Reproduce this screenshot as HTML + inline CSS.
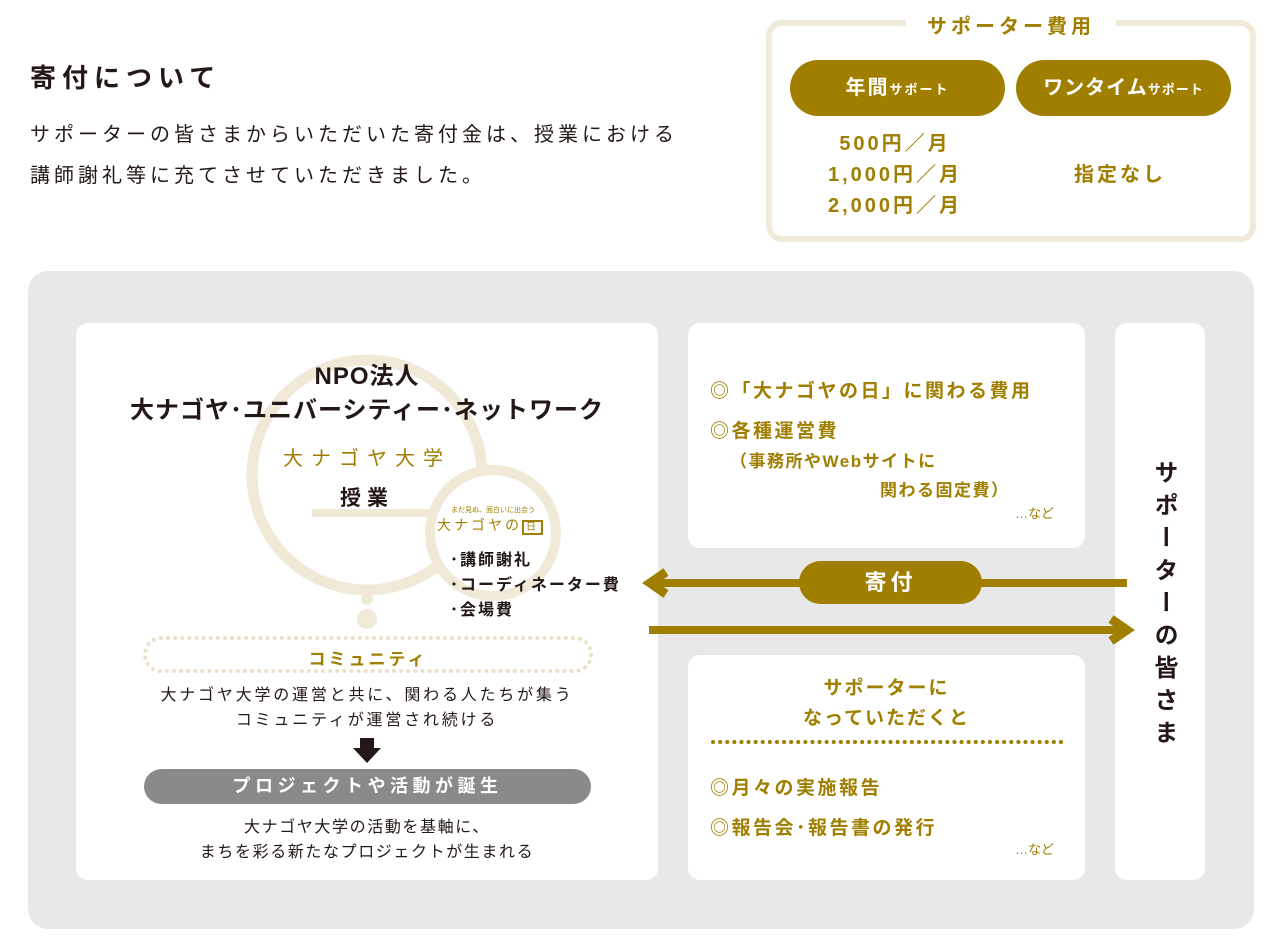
<!DOCTYPE html>
<html><head><meta charset="utf-8"><style>
*{margin:0;padding:0;box-sizing:border-box}
body{width:1280px;height:944px;background:#fff;position:relative;overflow:hidden;font-family:"Liberation Sans","Noto Sans CJK JP",sans-serif;color:#231815}
.a{position:absolute;white-space:nowrap}
.g{color:#a07f00}
.b{font-weight:bold}
.c{text-align:center}
</style></head><body>
<div class="a b" style="left:30px;top:58px;font-size:26px;letter-spacing:6px">寄付について</div>
<div class="a" style="left:30px;top:115px;font-size:20px;line-height:41px;letter-spacing:4px">サポーターの皆さまからいただいた寄付金は、授業における<br>講師謝礼等に充てさせていただきました。</div>

<div class="a" style="left:766px;top:20px;width:490px;height:222px;border:6px solid #f0ead9;border-radius:16px"></div>
<div class="a b g c" style="left:906px;top:10px;width:210px;background:#fff;font-size:20px;letter-spacing:4px">サポーター費用</div>
<div class="a b c" style="left:790px;top:60px;width:215px;height:56px;border-radius:28px;background:#a07f00;color:#fff;font-size:20px;line-height:56px;letter-spacing:2px">年間<span style="font-size:13px">サポート</span></div>
<div class="a b c" style="left:1016px;top:60px;width:215px;height:56px;border-radius:28px;background:#a07f00;color:#fff;font-size:20px;line-height:56px;letter-spacing:1px">ワンタイム<span style="font-size:13px">サポート</span></div>
<div class="a b g c" style="left:795px;top:129px;width:200px;font-size:20px;line-height:31px;letter-spacing:3px">500円／月<br>1,000円／月<br>2,000円／月</div>
<div class="a b g c" style="left:1020px;top:158px;width:200px;font-size:20px;letter-spacing:3px">指定なし</div>

<div class="a" style="left:28px;top:271px;width:1226px;height:658px;background:#e8e8e8;border-radius:20px"></div>
<div class="a" style="left:76px;top:323px;width:582px;height:557px;background:#fff;border-radius:12px"></div>
<div class="a" style="left:688px;top:323px;width:397px;height:225px;background:#fff;border-radius:12px"></div>
<div class="a" style="left:688px;top:655px;width:397px;height:225px;background:#fff;border-radius:12px"></div>
<div class="a" style="left:1115px;top:323px;width:90px;height:557px;background:#fff;border-radius:12px"></div>

<svg class="a" style="left:0;top:0" width="1280" height="944">
<circle cx="367" cy="475" r="115" fill="none" stroke="#f0e9d8" stroke-width="11"/>
<line x1="312" y1="513" x2="430" y2="513" stroke="#f0e9d8" stroke-width="8"/>
<circle cx="493" cy="533" r="63" fill="#fff" stroke="#f0e9d8" stroke-width="10"/>
<circle cx="367" cy="599" r="6" fill="#f0e9d8"/>
<circle cx="367" cy="619" r="10" fill="#f0e9d8"/>
<rect x="145" y="638" width="446" height="33" rx="16" fill="none" stroke="#ebe1c6" stroke-width="4" stroke-dasharray="0.1 7" stroke-linecap="round"/>
<line x1="713" y1="742" x2="1065" y2="742" stroke="#a07f00" stroke-width="4" stroke-dasharray="0.1 7" stroke-linecap="round"/>
<line x1="652" y1="583" x2="1127" y2="583" stroke="#a07f00" stroke-width="8"/>
<polyline points="666,572 650,583 666,594" fill="none" stroke="#a07f00" stroke-width="9"/>
<line x1="649" y1="630" x2="1124" y2="630" stroke="#a07f00" stroke-width="8"/>
<polyline points="1111,619 1127,630 1111,641" fill="none" stroke="#a07f00" stroke-width="9"/>
<polygon points="360,738 374,738 374,748 381,748 367,763 353,748 360,748" fill="#231815"/>
</svg>
<div class="a b c" style="left:799px;top:561px;width:183px;height:43px;border-radius:22px;background:#a07f00;color:#fff;font-size:22px;line-height:43px;letter-spacing:4px">寄付</div>

<div class="a b c" style="left:76px;top:360px;width:582px;font-size:24px;line-height:34px;letter-spacing:1px">NPO法人<br>大ナゴヤ･ユニバーシティー･ネットワーク</div>
<div class="a g c" style="left:267px;top:442px;width:200px;font-size:20px;letter-spacing:8px">大ナゴヤ大学</div>
<div class="a b c" style="left:317px;top:482px;width:100px;font-size:21px;letter-spacing:6px">授業</div>
<div class="a g c" style="left:433px;top:505px;width:120px;font-size:7px">まだ見ぬ、面白いに出会う</div>
<div class="a g" style="left:437px;top:515px;font-size:14px;letter-spacing:3px">大ナゴヤの<span style="border:2px solid #a07f00;font-size:10px;padding:0 2px">日</span></div>
<div class="a b" style="left:450px;top:548px;font-size:16px;line-height:25px;letter-spacing:2px">･講師謝礼<br>･コーディネーター費<br>･会場費</div>
<div class="a b g c" style="left:145px;top:645px;width:446px;font-size:17px;letter-spacing:3px">コミュニティ</div>
<div class="a c" style="left:76px;top:683px;width:582px;font-size:16px;line-height:25px;letter-spacing:2.8px">大ナゴヤ大学の運営と共に、関わる人たちが集う<br>コミュニティが運営され続ける</div>
<div class="a b c" style="left:144px;top:769px;width:447px;height:35px;border-radius:18px;background:#8a8a8a;color:#fff;font-size:18px;line-height:35px;letter-spacing:4.5px">プロジェクトや活動が誕生</div>
<div class="a c" style="left:76px;top:815px;width:582px;font-size:16px;line-height:25px;letter-spacing:1.6px">大ナゴヤ大学の活動を基軸に、<br>まちを彩る新たなプロジェクトが生まれる</div>

<div class="a b g" style="left:710px;top:376px;font-size:19px;letter-spacing:2.5px">◎「大ナゴヤの日」に関わる費用</div>
<div class="a b g" style="left:710px;top:416px;font-size:19px;letter-spacing:2.5px">◎各種運営費</div>
<div class="a b g" style="left:730px;top:447px;font-size:17px;letter-spacing:1.5px">（事務所やWebサイトに</div>
<div class="a b g" style="left:880px;top:476px;font-size:17px;letter-spacing:1.5px">関わる固定費）</div>
<div class="a g" style="left:1015px;top:503px;font-size:13px">…など</div>

<div class="a b g c" style="left:688px;top:674px;width:397px;font-size:19px;line-height:30px;letter-spacing:2px">サポーターに<br>なっていただくと</div>
<div class="a b g" style="left:710px;top:773px;font-size:19px;letter-spacing:2.5px">◎月々の実施報告</div>
<div class="a b g" style="left:710px;top:813px;font-size:19px;letter-spacing:2.5px">◎報告会･報告書の発行</div>
<div class="a g" style="left:1015px;top:839px;font-size:13px">…など</div>

<div class="a b" style="left:1146px;top:460px;font-size:24px;writing-mode:vertical-rl;letter-spacing:8.5px">サポーターの皆さま</div>
</body></html>
